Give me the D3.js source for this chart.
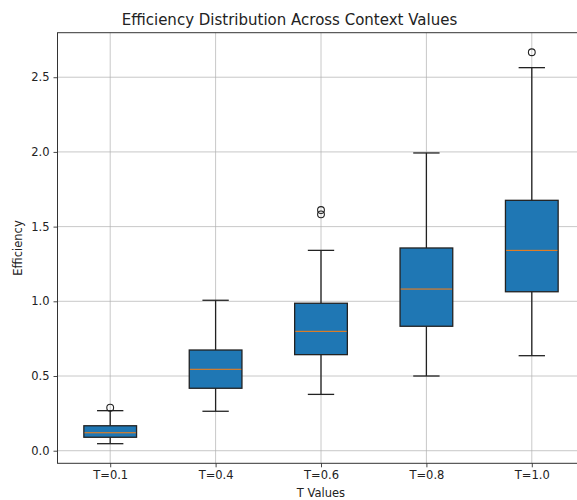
<!DOCTYPE html>
<html>
<head>
<meta charset="utf-8">
<script src="https://cdn.jsdelivr.net/npm/d3@7"></script>
<style>
  html, body { margin: 0; padding: 0; background: #fff; }
  svg { display: block; font-family: "DejaVu Sans", sans-serif; }
</style>
</head>
<body>
<svg id="chart" width="577" height="500"></svg>
<script>
// Box-plot summary per context value
const categories = ["T=0.1", "T=0.4", "T=0.6", "T=0.8", "T=1.0"];
const whiskerLow  = [0.047, 0.264, 0.377, 0.500, 0.636];
const q1          = [0.090, 0.418, 0.643, 0.833, 1.064];
const median      = [0.120, 0.545, 0.799, 1.082, 1.341];
const q3          = [0.167, 0.674, 0.987, 1.357, 1.676];
const whiskerHigh = [0.268, 1.007, 1.341, 1.993, 2.564];
const outliers    = [[0.288], [], [1.582, 1.611], [], [2.667]];
const yTicks = [0.0, 0.5, 1.0, 1.5, 2.0, 2.5];

const svg = d3.select("#chart");
const plotLeft = 57.5, plotRight = 584.5, plotTop = 32.7, plotBottom = 463.3;

const x = d3.scaleLinear().domain([0.5, categories.length + 0.5]).range([plotLeft, plotRight]);
const y = d3.scaleLinear().domain([-0.0843, 2.798]).range([plotBottom, plotTop]);
const boxW = x(1.5) - x(1);
const capW = boxW / 2;

const boxes = categories.map((c, i) => ({
  c, pos: i + 1,
  lo: whiskerLow[i], q1: q1[i], med: median[i], q3: q3[i], hi: whiskerHigh[i],
  out: outliers[i]
}));

// grid
const grid = svg.append("g");
grid.selectAll("line.h").data(yTicks).join("line")
  .attr("x1", plotLeft).attr("x2", plotRight)
  .attr("y1", d => y(d)).attr("y2", d => y(d))
  .attr("stroke", "#b0b0b0").attr("stroke-opacity", 0.7).attr("stroke-width", 1);
grid.selectAll("line.v").data(boxes).join("line")
  .attr("x1", d => x(d.pos)).attr("x2", d => x(d.pos))
  .attr("y1", plotTop).attr("y2", plotBottom)
  .attr("stroke", "#b0b0b0").attr("stroke-opacity", 0.7).attr("stroke-width", 1);

// boxes
const g = svg.append("g");
const ink = "#222";
const bx = g.selectAll("g.box").data(boxes).join("g");
bx.append("line").attr("x1", d => x(d.pos)).attr("x2", d => x(d.pos))
  .attr("y1", d => y(d.lo)).attr("y2", d => y(d.q1)).attr("stroke", ink).attr("stroke-width", 1.3);
bx.append("line").attr("x1", d => x(d.pos)).attr("x2", d => x(d.pos))
  .attr("y1", d => y(d.q3)).attr("y2", d => y(d.hi)).attr("stroke", ink).attr("stroke-width", 1.3);
bx.append("line").attr("x1", d => x(d.pos) - capW / 2).attr("x2", d => x(d.pos) + capW / 2)
  .attr("y1", d => y(d.lo)).attr("y2", d => y(d.lo)).attr("stroke", ink).attr("stroke-width", 1.3);
bx.append("line").attr("x1", d => x(d.pos) - capW / 2).attr("x2", d => x(d.pos) + capW / 2)
  .attr("y1", d => y(d.hi)).attr("y2", d => y(d.hi)).attr("stroke", ink).attr("stroke-width", 1.3);
bx.append("rect")
  .attr("x", d => x(d.pos) - boxW / 2).attr("width", boxW)
  .attr("y", d => y(d.q3)).attr("height", d => y(d.q1) - y(d.q3))
  .attr("fill", "#1f77b4").attr("stroke", ink).attr("stroke-width", 1.3);
bx.append("line").attr("x1", d => x(d.pos) - boxW / 2 + 0.7).attr("x2", d => x(d.pos) + boxW / 2 - 0.7)
  .attr("y1", d => y(d.med)).attr("y2", d => y(d.med)).attr("stroke", "#ff7f0e").attr("stroke-width", 1);
bx.selectAll("circle").data(d => d.out.map(v => ({ pos: d.pos, v }))).join("circle")
  .attr("cx", d => x(d.pos)).attr("cy", d => y(d.v)).attr("r", 3.4)
  .attr("fill", "none").attr("stroke", ink).attr("stroke-width", 1.1);

// axes
const xAxis = d3.axisBottom(x).tickValues(boxes.map(d => d.pos))
  .tickFormat(i => categories[i - 1]).tickSizeOuter(0).tickSize(4).tickPadding(4);
const yAxis = d3.axisLeft(y).tickValues(yTicks).tickFormat(d3.format(".1f"))
  .tickSizeOuter(0).tickSize(4).tickPadding(4);

const gx = svg.append("g").attr("transform", `translate(0,${plotBottom})`).call(xAxis);
const gy = svg.append("g").attr("transform", `translate(${plotLeft},0)`).call(yAxis);
[gx, gy].forEach(a => {
  a.select(".domain").remove();
  a.selectAll(".tick line").attr("stroke", "#333").attr("stroke-width", 0.9);
  a.selectAll(".tick text").attr("fill", "#222").style("font-size", "11.5px")
    .style("font-family", "'DejaVu Sans', sans-serif");
});

// frame
svg.append("rect").attr("x", plotLeft).attr("y", plotTop)
  .attr("width", plotRight - plotLeft).attr("height", plotBottom - plotTop)
  .attr("fill", "none").attr("stroke", "#333").attr("stroke-width", 1);

// titles
svg.append("text").attr("x", 289.5).attr("y", 25).attr("text-anchor", "middle")
  .style("font-size", "15px").attr("fill", "#222")
  .text("Efficiency Distribution Across Context Values");
svg.append("text").attr("x", (plotLeft + plotRight) / 2).attr("y", 497).attr("text-anchor", "middle")
  .style("font-size", "11.5px").attr("fill", "#222").text("T Values");
svg.append("text").attr("transform", `translate(22,${(plotTop + plotBottom) / 2}) rotate(-90)`)
  .attr("text-anchor", "middle").style("font-size", "11.5px").attr("fill", "#222")
  .text("Efficiency");
</script>
</body>
</html>
